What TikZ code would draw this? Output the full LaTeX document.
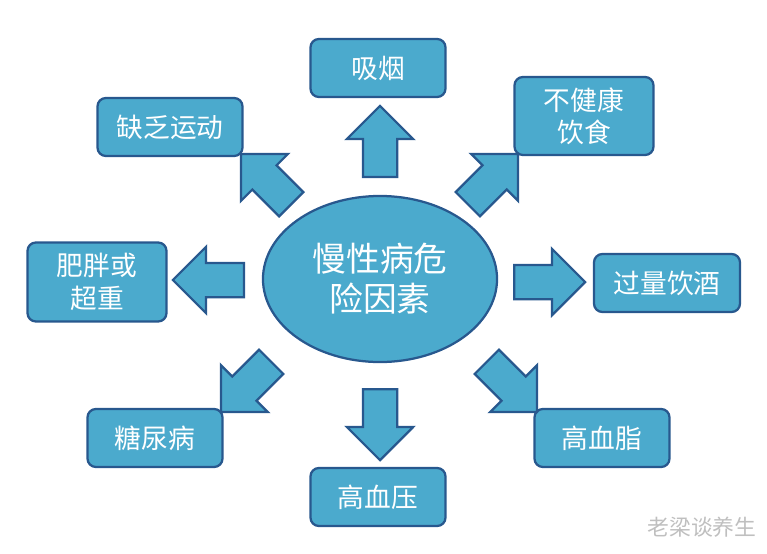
\documentclass[tikz,border=0pt]{standalone}
\usepackage{fontspec}
\setmainfont{Noto Sans CJK SC}
\usetikzlibrary{shapes.geometric,shapes.arrows}
\definecolor{boxblue}{RGB}{75,170,205}
\definecolor{edgeblue}{RGB}{40,88,142}

\begin{document}
\begin{tikzpicture}[
    x=0.025cm, y=-0.025cm,
    font=\fontsize{19}{23}\selectfont,
    factor/.style={draw=edgeblue, fill=boxblue, rounded corners=6pt, text=white, align=center, minimum width=3.375cm, minimum height=1.45cm, inner sep=0pt, line width=1.6pt},
    blockarrow/.style={single arrow, anchor=tail, draw=edgeblue, fill=boxblue, line width=1.6pt, minimum height=1.775cm, single arrow head extend=0.4cm, inner xsep=0pt, inner ysep=0.4cm}
]
\useasboundingbox (0,0) rectangle (767,553);

\node[ellipse, draw=edgeblue, fill=boxblue, line width=1.6pt, minimum width=5.85cm, minimum height=4.15cm, inner sep=0pt, text=white, align=center, font=\fontsize{24}{28.5}\selectfont] (risk) at (380,279) {慢性病危\\险因素};

\node[factor] (smoke) at (378,68) {吸烟};
\node[factor, minimum width=3.475cm, minimum height=1.95cm] (diet) at (584,116) {不健康\\饮食};
\node[factor, minimum width=3.625cm] (exercise) at (170,127) {缺乏运动};
\node[factor, minimum width=3.475cm, minimum height=1.975cm] (obesity) at (97,282) {肥胖或\\超重};
\node[factor, minimum width=3.65cm] (alcohol) at (667,283) {过量饮酒};
\node[factor] (diabetes) at (155,438) {糖尿病};
\node[factor] (pressure) at (378,497) {高血压};
\node[factor] (lipid) at (602,438) {高血脂};

% arrows placed by their tails
\node[blockarrow, rotate=90] (a1) at (380,178) {};
\node[blockarrow, rotate=45] (a2) at (467,205) {};
\node[blockarrow] (a3) at (513,282) {};
\node[blockarrow, rotate=-45] (a4) at (486,361) {};
\node[blockarrow, rotate=-90] (a5) at (380,388) {};
\node[blockarrow, rotate=-135] (a6) at (272,361) {};
\node[blockarrow, rotate=180] (a7) at (245,280) {};
\node[blockarrow, rotate=135] (a8) at (292,205) {};

\node[text=black!25, font=\fontsize{15.5}{18}\selectfont] (mark) at (702,527) {老梁谈养生};
\end{tikzpicture}
\end{document}
